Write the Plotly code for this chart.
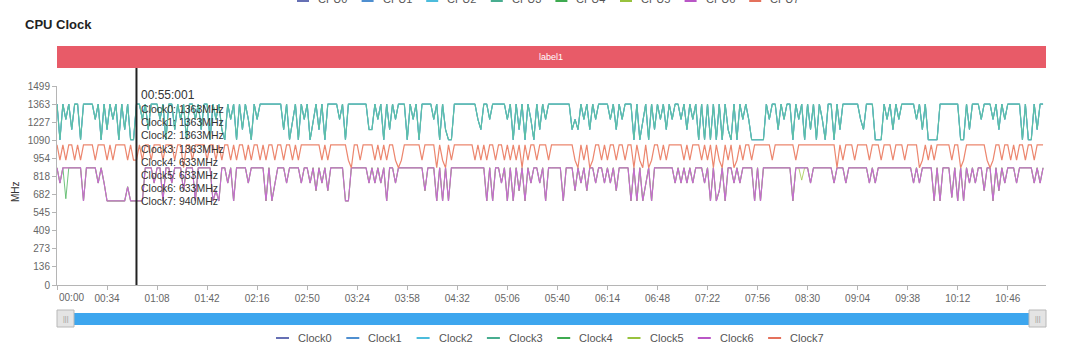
import plotly.graph_objects as go

# ---------------- data (2 s sampling) ----------------
series_names = ["Clock0", "Clock1", "Clock2", "Clock3", "Clock4", "Clock5", "Clock6", "Clock7"]
top_legend_names = ["CPU0", "CPU1", "CPU2", "CPU3", "CPU4", "CPU5", "CPU6", "CPU7"]
legend_colors = ["#6670b4", "#4f8fd0", "#4cbcdc", "#48ad90", "#3eaa50", "#98c23e", "#b956c6", "#e4715c"]
line_colors = ["#7580c0", "#5f9ad6", "#5cc4e0", "#5cbfa6", "#4cb45c", "#a3c94e", "#c46ccf", "#ec866e"]
line_widths = [0.8, 0.8, 0.8, 1.2, 0.8, 0.8, 1.2, 1.2]

# big cores (Clock0..Clock3 identical)
big_core_mhz = [
    1363,1094,1363,1248,1363,1171,1363,1363,1094,1363,1363,1363,1363,1248,1363,1094,1363,
    1171,1363,1248,1363,1094,1363,1171,1363,1094,1094,1363,1363,1248,1363,1171,1363,1363,
    1363,1248,1363,1094,1363,1363,1171,1363,1248,1363,1094,1363,1363,1248,1363,1171,1363,
    1363,1094,1363,1248,1363,1171,1094,1363,1248,1363,1094,1363,1171,1363,1248,1094,1363,
    1248,1363,1363,1363,1363,1363,1363,1363,1363,1171,1363,1094,1248,1363,1094,1363,1248,
    1363,1094,1248,1363,1171,1363,1094,1363,1363,1363,1363,1248,1363,1094,1363,1363,1363,
    1363,1363,1363,1363,1171,1171,1363,1248,1363,1094,1363,1171,1363,1248,1363,1363,1363,
    1094,1363,1248,1363,1094,1363,1363,1363,1363,1248,1363,1094,1363,1171,1094,1094,1363,
    1363,1363,1363,1363,1363,1363,1363,1248,1171,1363,1363,1248,1363,1363,1363,1363,1363,
    1248,1363,1094,1363,1171,1363,1094,1363,1248,1094,1363,1171,1363,1248,1363,1363,1363,
    1363,1363,1363,1363,1363,1171,1248,1171,1363,1248,1363,1171,1363,1248,1363,1363,1363,
    1363,1248,1363,1171,1363,1248,1363,1363,1363,1094,1363,1094,1248,1363,1094,1363,1171,
    1363,1248,1363,1171,1363,1248,1363,1363,1248,1363,1171,1363,1248,1363,1094,1363,1094,
    1363,1094,1363,1094,1363,1094,1363,1171,1094,1363,1094,1363,1248,1363,1248,1094,1094,
    1094,1094,1094,1363,1248,1363,1363,1171,1363,1248,1363,1363,1094,1363,1248,1363,1094,
    1363,1171,1363,1094,1363,1248,1094,1363,1363,1094,1363,1171,1363,1363,1363,1363,1363,
    1363,1248,1171,1363,1363,1363,1094,1094,1094,1363,1248,1363,1171,1363,1248,1363,1363,
    1363,1363,1363,1248,1363,1171,1363,1094,1094,1094,1094,1363,1363,1363,1363,1363,1363,
    1363,1094,1094,1363,1171,1363,1363,1363,1248,1363,1363,1363,1248,1363,1171,1363,1248,
    1363,1363,1363,1363,1363,1094,1363,1094,1094,1363,1171,1363,1363,
]

# little cores (Clock4..Clock6)
little_core_mhz = [
    883,768,883,883,883,883,883,883,883,633,883,883,883,883,768,883,768,
    633,633,633,633,633,633,633,740,633,633,633,633,633,883,883,883,768,
    883,883,633,883,883,768,883,883,883,710,883,883,883,633,883,883,883,
    883,883,633,710,633,883,883,768,883,633,883,883,883,883,768,883,883,
    883,883,883,633,883,633,768,883,883,883,768,883,883,883,883,768,883,
    883,768,883,710,883,768,883,710,883,883,883,883,883,633,633,883,883,
    883,883,883,883,768,883,768,883,768,883,633,883,883,768,883,883,883,
    883,883,883,883,883,883,710,883,883,883,633,883,633,883,633,883,883,
    883,883,883,883,883,883,883,883,883,883,633,883,633,883,883,768,883,
    633,883,633,883,710,883,633,883,768,883,883,768,883,633,883,883,883,
    883,883,633,883,883,883,710,883,768,883,710,883,883,768,883,883,768,
    883,768,883,710,883,883,883,883,633,883,633,883,633,768,883,633,883,
    883,883,883,883,883,883,768,883,768,883,768,883,768,883,883,883,768,
    883,633,883,633,710,883,633,883,883,768,883,768,883,883,883,883,633,
    883,633,883,883,883,883,883,883,883,883,883,883,633,883,883,883,883,
    883,768,883,883,883,883,883,883,883,768,883,883,883,768,883,883,883,
    883,883,883,883,768,883,768,883,883,883,883,883,883,883,883,883,883,
    883,883,768,883,768,883,883,883,883,633,883,633,883,883,883,660,883,
    633,883,633,883,768,883,768,883,883,710,883,883,633,883,710,883,768,
    883,883,883,768,883,883,883,883,883,768,883,768,883,
]
clock4_deviations = {3: 650}      # green dip near the start
clock5_deviations = {253: 790}    # yellow-green dip near 09:04

# prime core (Clock7)
prime_core_mhz = [
    1056,940,1056,940,1056,1056,940,1056,940,1056,1056,1056,1056,940,1056,1056,1056,
    940,1056,940,1056,1056,1056,1056,940,1056,940,940,1056,940,1056,1056,940,1056,
    1056,1056,940,1056,1056,1056,940,1056,1056,883,1056,1056,940,1056,1056,1056,1056,
    940,1056,1056,940,1056,940,1056,1056,940,1056,940,1056,1056,940,1056,940,1056,
    1056,940,1056,940,1056,1056,940,1056,1056,940,1056,1056,940,1056,940,1056,1056,
    1056,1056,1056,1056,1056,940,1056,940,1056,1056,1056,1056,1056,1056,940,883,1056,
    1056,940,1056,1056,1056,1056,940,1056,940,1056,940,1056,1056,940,883,940,1056,
    1056,1056,1056,1056,1056,940,1056,1056,1056,1056,883,1056,940,883,1056,940,1056,
    1056,1056,1056,1056,1056,1056,940,1056,940,1056,940,1056,1056,940,1056,1056,940,
    1056,940,1056,940,1056,883,1056,940,1056,1056,940,1056,1056,1056,940,1056,1056,
    1056,1056,1056,1056,1056,1056,940,883,1056,940,1056,883,940,1056,1056,940,1056,
    940,1056,1056,940,1056,1056,940,1056,1056,883,1056,940,883,1056,883,940,1056,
    1056,940,1056,940,1056,1056,1056,1056,1056,940,1056,940,1056,1056,1056,940,1056,
    940,1056,883,1056,940,883,1056,940,1056,883,940,1056,940,1056,1056,940,1056,
    1056,1056,1056,1056,1056,940,1056,1056,1056,1056,1056,1056,1056,940,1056,1056,1056,
    1056,1056,1056,1056,1056,1056,1056,1056,1056,1056,883,1056,940,1056,1056,1056,940,
    1056,1056,1056,1056,940,1056,1056,1056,940,1056,1056,1056,940,1056,1056,1056,940,
    1056,1056,1056,1056,883,940,1056,940,1056,940,1056,1056,1056,1056,1056,940,1056,
    1056,883,940,1056,1056,1056,1056,1056,1056,1056,940,883,940,1056,1056,940,1056,
    1056,940,1056,940,1056,1056,940,1056,1056,940,1056,1056,1056,
]

sample_step_s = 2
x_tick_seconds = [0, 34, 68, 102, 136, 170, 204, 238, 272, 306, 340, 374, 408, 442, 476, 510, 544, 578, 612, 646]
x_tick_labels = ["00:00", "00:34", "01:08", "01:42", "02:16", "02:50", "03:24", "03:58", "04:32", "05:06",
                 "05:40", "06:14", "06:48", "07:22", "07:56", "08:30", "09:04", "09:38", "10:12", "10:46"]
y_tick_values = [0, 136, 273, 409, 545, 682, 818, 954, 1090, 1227, 1363, 1499]

tooltip_time_s = 54
tooltip_title = "00:55:001"
tooltip_values = [1363, 1363, 1363, 1363, 633, 633, 633, 940]

# ---------------- build series ----------------
clock4 = list(little_core_mhz)
for k, v in clock4_deviations.items():
    clock4[k] = v
clock5 = list(little_core_mhz)
for k, v in clock5_deviations.items():
    clock5[k] = v
series_values = [big_core_mhz, big_core_mhz, big_core_mhz, big_core_mhz,
                 clock4, clock5, little_core_mhz, prime_core_mhz]

# ---------------- geometry helpers (pixels -> paper) ----------------
W, H = 1080, 355
L, R, T, B = 57, 34, 86, 70
PW = W - L - R
PH = H - T - B


def px(x):
    return (x - L) / PW


def py(y):
    return (H - B - y) / PH


FONT = "Liberation Sans, Arial, Helvetica, sans-serif"

fig = go.Figure()
for name, vals, col, lw in zip(series_names, series_values, line_colors, line_widths):
    xs = [i * sample_step_s for i in range(len(vals))]
    fig.add_trace(go.Scatter(x=xs, y=vals, mode="lines", name=name,
                             line=dict(color=col, width=lw),
                             hoverinfo="skip", showlegend=False))

shapes = []
annotations = []

# title
annotations.append(dict(text="<b>CPU Clock</b>", xref="paper", yref="paper",
                        x=px(23), y=py(24), xanchor="left", yanchor="middle",
                        showarrow=False, font=dict(size=13, color="#222", family=FONT)))

# label bar
shapes.append(dict(type="rect", xref="paper", yref="paper", x0=px(57), x1=px(1046),
                   y0=py(68), y1=py(46), fillcolor="#e85b68", line=dict(width=0), layer="below"))
annotations.append(dict(text="label1", xref="paper", yref="paper", x=px(551), y=py(57),
                        xanchor="center", yanchor="middle", showarrow=False,
                        font=dict(size=9, color="#fff", family=FONT)))

# y-axis title
annotations.append(dict(text="MHz", xref="paper", yref="paper", x=px(15), y=py(192),
                        xanchor="center", yanchor="middle", textangle=-90, showarrow=False,
                        font=dict(size=10, color="#333", family=FONT)))

# first x tick label is left-aligned at the axis start
annotations.append(dict(text=x_tick_labels[0], xref="paper", yref="paper", x=px(57), y=py(297),
                        xanchor="left", yanchor="middle", showarrow=False,
                        font=dict(size=10, color="#666", family=FONT)))
tick_text_shown = [""] + x_tick_labels[1:]

# tooltip cursor line
shapes.append(dict(type="line", xref="x", yref="paper", x0=tooltip_time_s, x1=tooltip_time_s,
                   y0=0, y1=py(68), line=dict(color="#222", width=2)))
annotations.append(dict(text=tooltip_title, xref="paper", yref="paper", x=px(139), y=py(95),
                        xanchor="left", yanchor="middle", showarrow=False,
                        font=dict(size=12, color="#333", family=FONT)))
for i, (name, v) in enumerate(zip(series_names, tooltip_values)):
    annotations.append(dict(text=f"{name}: {v}MHz", xref="paper", yref="paper",
                            x=px(139), y=py(109 + i * 13.2), xanchor="left", yanchor="middle",
                            showarrow=False, font=dict(size=10.5, color="#333", family=FONT)))

# data-zoom slider
shapes.append(dict(type="rect", xref="paper", yref="paper", x0=px(62), x1=px(1040),
                   y0=py(325), y1=py(313), fillcolor="#3da6ee", line=dict(width=0)))
for hx0, hx1 in [(57, 74), (1029, 1046)]:
    shapes.append(dict(type="rect", xref="paper", yref="paper", x0=px(hx0), x1=px(hx1),
                       y0=py(327), y1=py(310), fillcolor="#e4e4e4",
                       line=dict(color="#b8b8b8", width=1)))
    annotations.append(dict(text="|||", xref="paper", yref="paper", x=px((hx0 + hx1) / 2),
                            y=py(318.5), xanchor="center", yanchor="middle", showarrow=False,
                            font=dict(size=7, color="#999", family=FONT)))

# bottom legend
for i, (name, col) in enumerate(zip(series_names, legend_colors)):
    lx = 276 + i * 70.3
    shapes.append(dict(type="line", xref="paper", yref="paper", x0=px(lx), x1=px(lx + 13),
                       y0=py(338), y1=py(338), line=dict(color=col, width=2)))
    annotations.append(dict(text=name, xref="paper", yref="paper", x=px(lx + 20), y=py(338),
                            xanchor="left", yanchor="middle", showarrow=False,
                            font=dict(size=11, color="#555", family=FONT)))

# top legend (cut off by the top edge, as in the original)
for i, (name, col) in enumerate(zip(top_legend_names, legend_colors)):
    lx = 297 + i * 64.6
    shapes.append(dict(type="line", xref="paper", yref="paper", x0=px(lx), x1=px(lx + 12),
                       y0=py(1), y1=py(1), line=dict(color=col, width=2)))
    annotations.append(dict(text=name, xref="paper", yref="paper", x=px(lx + 19), y=py(-1),
                            xanchor="left", yanchor="middle", showarrow=False,
                            font=dict(size=11, color="#555", family=FONT)))

fig.update_layout(
    width=W, height=H,
    margin=dict(l=L, r=R, t=T, b=B, pad=0),
    paper_bgcolor="white", plot_bgcolor="white",
    font=dict(family=FONT, size=10, color="#666"),
    showlegend=False,
    hovermode=False,
    shapes=shapes,
    annotations=annotations,
    xaxis=dict(range=[0, 672], tickmode="array", tickvals=x_tick_seconds, ticktext=tick_text_shown,
               showgrid=False, zeroline=False, showline=True, linecolor="#b5b5b5", linewidth=1,
               ticks="outside", ticklen=4, tickcolor="#b5b5b5",
               tickfont=dict(size=10, color="#666", family=FONT)),
    yaxis=dict(range=[0, 1499], tickmode="array", tickvals=y_tick_values,
               showgrid=False, zeroline=False, showline=True, linecolor="#b5b5b5", linewidth=1,
               ticks="outside", ticklen=4, tickcolor="#b5b5b5",
               tickfont=dict(size=10, color="#666", family=FONT)),
)

fig.write_html("out.html", config={"displayModeBar": False, "staticPlot": True},
               post_script="document.body.style.margin='0';document.body.style.overflow='hidden';")
